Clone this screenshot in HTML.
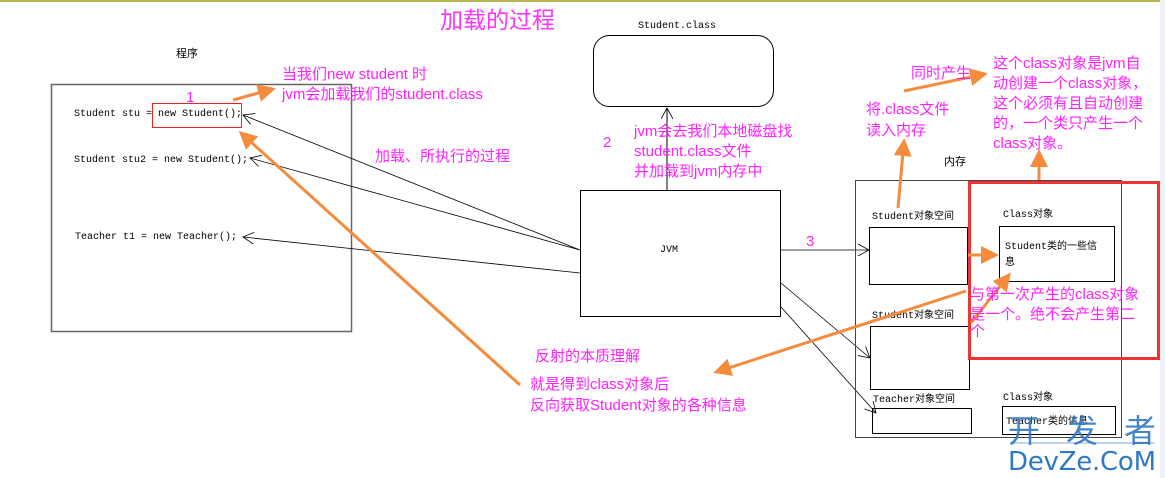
<!DOCTYPE html>
<html><head><meta charset="utf-8"><style>
html,body{margin:0;padding:0;background:#fff;}
svg{display:block;}
.m{font-family:"Liberation Mono","Noto Sans CJK SC",monospace;font-size:10px;fill:#000;}
.p{font-family:"Liberation Sans","Noto Sans CJK SC",sans-serif;font-size:15px;fill:#ff22ff;}
.k{font-family:"Liberation Sans","Noto Sans CJK SC",sans-serif;font-size:11px;fill:#000;}
</style></head><body>
<svg width="1165" height="478" viewBox="0 0 1165 478" xmlns="http://www.w3.org/2000/svg">
<defs>
<marker id="oa" markerWidth="6" markerHeight="6" refX="5" refY="3" orient="auto" markerUnits="strokeWidth"><path d="M0,0 L6,3 L0,6 z" fill="#f58b3c"/></marker>
<marker id="ba" markerWidth="12" markerHeight="12" refX="11" refY="6" orient="auto" markerUnits="userSpaceOnUse"><path d="M0,0 L11,6 L0,12" fill="none" stroke="#000" stroke-width="0.8"/></marker>
</defs>
<rect x="0" y="0" width="1165" height="2" fill="#b5b54a"/>
<rect x="1160" y="0" width="5" height="478" fill="#eef2f8"/>
<text x="440" y="28" style="font-family:'Liberation Sans','Noto Sans CJK SC',sans-serif;font-size:23px;fill:#ff33ff">加载的过程</text>
<text x="176" y="57" class="k">程序</text>
<rect x="51.5" y="84.5" width="300" height="247" fill="none" stroke="#666" stroke-width="1.5"/>
<text x="74" y="116" class="m">Student stu = new Student();</text>
<rect x="152.5" y="103.5" width="89" height="24" fill="none" stroke="#ee2222" stroke-width="1"/>
<text x="74" y="162" class="m">Student stu2 = new Student();</text>
<text x="75" y="239" class="m">Teacher t1 = new Teacher();</text>
<text x="186" y="102" class="p">1</text>
<text x="638" y="28" class="m">Student.class</text>
<rect x="593.5" y="35.5" width="180" height="71" rx="16" fill="none" stroke="#000"/>
<line x1="667" y1="190" x2="667" y2="108" stroke="#000" marker-end="url(#ba)"/>
<rect x="580.5" y="190.5" width="200" height="126" fill="none" stroke="#000"/>
<text x="660" y="252" class="m">JVM</text>
<line x1="580" y1="250" x2="243" y2="115" stroke="#000" stroke-width="0.8" marker-end="url(#ba)"/>
<line x1="580" y1="250" x2="250" y2="158" stroke="#000" stroke-width="0.8" marker-end="url(#ba)"/>
<line x1="580" y1="273" x2="243" y2="237" stroke="#000" stroke-width="0.8" marker-end="url(#ba)"/>
<line x1="781" y1="250" x2="869" y2="250" stroke="#000" stroke-width="0.8" marker-end="url(#ba)"/>
<line x1="781" y1="283" x2="870" y2="358" stroke="#000" stroke-width="0.8" marker-end="url(#ba)"/>
<line x1="781" y1="307" x2="876" y2="413" stroke="#000" stroke-width="0.8" marker-end="url(#ba)"/>
<text x="806" y="246" class="p">3</text>
<text x="944" y="165" class="k">内存</text>
<rect x="855.5" y="180.5" width="266" height="257" fill="none" stroke="#444"/>
<text x="872" y="219" class="m">Student对象空间</text>
<rect x="869.5" y="227.5" width="98" height="57" fill="none" stroke="#000"/>
<text x="872" y="318" class="m">Student对象空间</text>
<rect x="870.5" y="326.5" width="99" height="63" fill="none" stroke="#000"/>
<text x="873" y="402" class="m">Teacher对象空间</text>
<rect x="872.5" y="408.5" width="99" height="25" fill="none" stroke="#000"/>
<text x="1003" y="217" class="m">Class对象</text>
<rect x="999.5" y="226.5" width="115" height="55" fill="none" stroke="#000"/>
<text x="1005" y="249" class="m">Student类的一些信</text>
<text x="1005" y="265" class="m">息</text>
<text x="1003" y="400" class="m">Class对象</text>
<rect x="1002.5" y="406.5" width="113" height="28" fill="none" stroke="#000"/>
<text x="1006" y="424" class="m">Teacher类的信息</text>
<rect x="969.5" y="182.5" width="189" height="176" fill="none" stroke="#ee3333" stroke-width="3"/>
<g stroke="#f58b3c" stroke-width="3" fill="none" marker-end="url(#oa)">
<line x1="233" y1="100" x2="273" y2="89"/>
<line x1="520" y1="385" x2="241" y2="133"/>
<line x1="968" y1="255" x2="996" y2="255"/>
<line x1="971" y1="323" x2="1009" y2="275"/>
<line x1="966" y1="291" x2="716" y2="372"/>
<line x1="898" y1="208" x2="904" y2="141"/>
<line x1="1039" y1="180" x2="1039" y2="152"/>
<line x1="904" y1="91" x2="985" y2="74"/>
</g>
<text x="282" y="79" class="p">当我们new student 时</text>
<text x="282" y="99" class="p">jvm会加载我们的student.class</text>
<text x="375" y="161" class="p">加载、所执行的过程</text>
<text x="603" y="147" class="p">2</text>
<text x="634" y="136" class="p">jvm会去我们本地磁盘找</text>
<text x="634" y="156" class="p">student.class文件</text>
<text x="634" y="176" class="p">并加载到jvm内存中</text>
<text x="866" y="114" class="p">将.class文件</text>
<text x="866" y="135" class="p">读入内存</text>
<text x="911" y="78" class="p">同时产生</text>
<text x="993" y="68" class="p">这个class对象是jvm自</text>
<text x="993" y="88" class="p">动创建一个class对象，</text>
<text x="993" y="108" class="p">这个必须有且自动创建</text>
<text x="993" y="128" class="p">的，一个类只产生一个</text>
<text x="993" y="148" class="p">class对象。</text>
<text x="970" y="299" class="p">与第一次产生的class对象</text>
<text x="970" y="319" class="p">是一个。绝不会产生第二</text>
<text x="970" y="336" class="p">个</text>
<text x="535" y="361" class="p">反射的本质理解</text>
<text x="530" y="389" class="p">就是得到class对象后</text>
<text x="530" y="410" class="p">反向获取Student对象的各种信息</text>
<text x="1008" y="442" style="font-family:'Noto Sans CJK SC',sans-serif;font-size:32px;fill:#2f78c4;opacity:0.9" textLength="148">开发者</text>
<line x1="1010" y1="443" x2="1155" y2="443" stroke="#2f78c4" stroke-width="1" opacity="0.6"/>
<text x="1008" y="470" style="font-family:'DejaVu Sans',sans-serif;font-size:26px;fill:#2f78c4" textLength="148">DevZe.CoM</text>
</svg>
</body></html>
